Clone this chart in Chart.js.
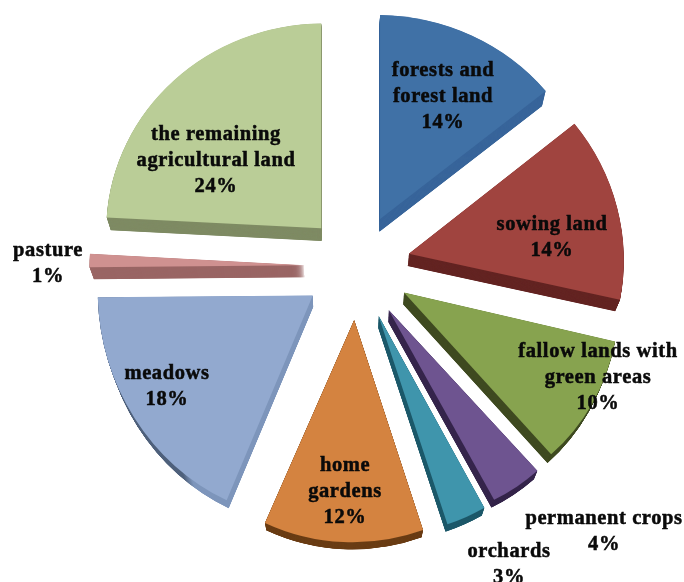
<!DOCTYPE html>
<html>
<head>
<meta charset="utf-8">
<title>Land use</title>
<script src="https://cdn.jsdelivr.net/npm/chart.js@4"></script>
<style>
  html, body { margin: 0; background: #fff; }
  canvas { display: block; filter: blur(0.5px); }
</style>
</head>
<body>
<canvas id="myChart" width="684" height="582"></canvas>
<script>
const categories = ["forests and|forest land", "sowing land", "fallow lands with|green areas", "permanent crops", "orchards", "home|gardens", "meadows", "pasture", "the remaining|agricultural land"];
const shares = [14, 14, 10, 4, 3, 12, 18, 1, 24];
const topColors = ["#4071a6", "#a0443f", "#87a34f", "#6e5490", "#3f95ac", "#d48340", "#92a9cf", "#cf9190", "#bacd97"];
const sideColors = ["#38659a", "#642523", "#3f4a20", "#36264c", "#1f5a6b", "#6b3e16", "#7d95bb", "#9a6665", "#7f8b64"];

// where each label is centred, same order as categories
const labelX = [443, 552, 598, 604, 509, 345, 167, 48, 216];
const labelY = [71, 225, 352, 519, 552, 466, 374, 251, 135];
const lineGap = 26;

// arc's own offset option also grows the radius, so the slices are pulled out by hand
const explode = 53;

// the original is in perspective, each slice gets its own small stretch and tilt
const stretchY = [0.949, 0.985, 0.992, 0.98, 1.02, 1.034, 1.049, 1, 0.953];
const tiltY = [0.012, 0.03, 0.043, 0.05, 0, -0.02, -0.009, -0.009, -0.009];
const tiltX = [0, 0, 0, 0.01, 0.012, 0.012, 0.028, 0, 0];

// fake 3d: the depth shrinks towards this point
const vanish = { x: 340, y: 950 };
const depth = 0.0175;
const steps = 48;

function moveSlice(ctx, arc, i) {
  const mid = (arc.startAngle + arc.endAngle) / 2;
  ctx.translate(arc.x + Math.cos(mid) * explode, arc.y + Math.sin(mid) * explode);
  ctx.transform(1, tiltY[i], tiltX[i], stretchY[i], 0, 0);
  ctx.translate(-arc.x, -arc.y);
}

function drawSide(ctx, arc, i) {
  for (let s = steps; s > 0; s--) {
    const k = 1 - depth * s / steps;
    ctx.save();
    ctx.translate(vanish.x, vanish.y);
    ctx.scale(k, k);
    ctx.translate(-vanish.x, -vanish.y);
    if (i === 6) {
      // meadows: dark under the rim, light on the straight edge
      const g = ctx.createLinearGradient(222, 0, 232, 0);
      g.addColorStop(0, "#4e607b");
      g.addColorStop(1, sideColors[i]);
      ctx.fillStyle = g;
    } else {
      ctx.fillStyle = sideColors[i];
    }
    moveSlice(ctx, arc, i);
    ctx.beginPath();
    ctx.moveTo(arc.x, arc.y);
    ctx.arc(arc.x, arc.y, arc.outerRadius, arc.startAngle, arc.endAngle);
    ctx.closePath();
    ctx.fill();
    ctx.restore();
  }
}

const fakeDepth = {
  id: "fakeDepth",
  beforeDatasetDraw(chart, args) {
    const ctx = chart.ctx;
    args.meta.data.forEach((arc, i) => {
      drawSide(ctx, arc, i);
      ctx.save();
      moveSlice(ctx, arc, i);
      arc.draw(ctx);
      ctx.restore();
    });
    return false;
  },
  afterDraw(chart) {
    const ctx = chart.ctx;
    ctx.save();
    ctx.fillStyle = "#0a0a0a";
    ctx.strokeStyle = "#0a0a0a";
    ctx.lineWidth = 0.5;
    ctx.font = "bold 20.5px 'Liberation Serif'";
    ctx.letterSpacing = "0.6px";
    ctx.textAlign = "center";
    ctx.textBaseline = "middle";
    categories.forEach((name, i) => {
      const lines = name.split("|").concat(shares[i] + "%");
      lines.forEach((line, j) => {
        ctx.fillText(line, labelX[i], labelY[i] + j * lineGap);
        ctx.strokeText(line, labelX[i], labelY[i] + j * lineGap);
      });
    });
    ctx.restore();
  }
};

const config = {
  type: "pie",
  data: {
    labels: categories.map((c) => c.replace("|", " ")),
    datasets: [{
      data: shares,
      backgroundColor: topColors,
      borderWidth: 0,
    }],
  },
  options: {
    responsive: false,
    animation: false,
    radius: 215,
    layout: { padding: { left: 31, bottom: 48 } },
    plugins: {
      legend: { display: false },
      tooltip: { enabled: false },
    },
  },
  plugins: [fakeDepth],
};

const ctx = document.getElementById("myChart").getContext("2d");
const myChart = new Chart(ctx, config);
</script>
</body>
</html>
